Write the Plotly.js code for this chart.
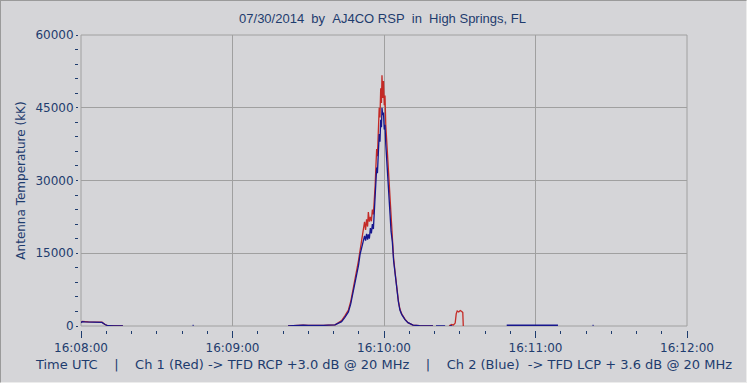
<!DOCTYPE html>
<html>
<head>
<meta charset="utf-8">
<script src="https://cdn.plot.ly/plotly-3.0.1.min.js"></script>
<style>
html,body{margin:0;padding:0;background:#d5d5d8;}
#chart{width:745px;height:381px;border-top:1px solid #9a9a9a;border-left:1px solid #9a9a9a;border-right:1px solid #ececec;border-bottom:1px solid #ececec;}
</style>
</head>
<body>
<div id="chart"></div>
<script>
// Seconds after 16:08:00 UTC on 2014-07-30, with antenna temperature (K); null = gap
const ch2BlueSec = [0,0.5,1.5,3,5,7,8.3,9.5,10.7,13,16.6,17,
  44.2,44.6,45,
  82,84,86,88,90,92,94,96,98,99.5,100.6,102,103.2,104.5,105.9,106.8,107.8,108.5,109.2,109.9,110.5,111.2,111.8,
  112.3,112.7,113.1,113.5,113.8,114.2,114.6,115.0,115.4,115.8,116.2,116.5,116.8,117.1,117.4,117.7,118.1,118.4,118.7,119.0,119.2,119.5,119.8,120.1,120.4,120.7,121.1,121.4,121.7,122.1,122.4,122.8,123.3,123.8,124.4,125,125.7,126.3,127,128.3,129.5,131.5,134,139.4,140,
  140.6,144.2,145,146,147,147.5,
  168.6,175,182,188.9,189.5,
  202.6,203];
const ch2BlueTemp = [700,900,850,800,820,800,750,300,50,30,30,null,
  100,100,null,
  0,100,120,150,100,80,150,130,200,300,250,600,900,1800,2900,4500,7000,8800,10600,12500,14700,16500,17400,
  18600,17600,19000,17800,18900,18000,20200,19100,21000,20000,23700,26000,29500,32700,31500,36000,39600,38000,42500,41000,45000,43500,44000,40500,41500,37500,34500,32000,29000,25000,23000,19500,17400,13500,10600,7500,5000,3300,2400,1300,700,200,50,20,null,
  20,20,null,30,30,null,
  150,170,160,150,null,
  100,100];

const ch1RedSec = [0,0.5,3,8.3,9.5,10.7,16.6,17,
  82,84,86,88,90,92,94,96,98,99.5,100.6,102,103.2,104.5,105.9,106.8,107.8,108.5,109.2,109.9,110.5,111.2,111.8,
  112.3,112.7,113.1,113.5,113.8,114.2,114.6,115.0,115.4,115.8,116.2,116.5,116.8,117.1,117.4,117.7,118.1,118.4,118.7,119.0,119.2,119.5,119.8,120.1,120.4,120.7,121.1,121.4,121.7,122.1,122.4,122.8,123.3,123.8,124.4,125,125.7,126.3,127,128.3,129.5,131.5,134,139.4,140,
  145.8,146.8,147.5,148.2,148.6,149.0,149.6,150.2,150.8,151.2,151.4];
const ch1RedTemp = [750,950,850,800,300,50,30,null,
  0,100,120,150,100,80,150,130,200,300,250,700,1100,2100,3300,5000,7600,9500,11500,13500,15500,17800,19500,
  21500,19800,22000,20500,23500,21500,22500,21600,24000,23000,26000,29000,33000,36500,35000,41000,45000,43000,49000,46000,51700,47000,50500,45500,47500,41500,38000,35000,31000,27000,24500,21000,18000,14000,11000,7800,5200,3500,2500,1400,700,200,50,20,null,
  50,300,200,600,2500,3100,2900,3200,3000,2800,0];

const titleText = '07/30/2014&nbsp;&nbsp;by&nbsp;&nbsp;AJ4CO RSP&nbsp;&nbsp;in&nbsp;&nbsp;High Springs, FL';
const yTitle = 'Antenna Temperature (kK)';
const xTitle = 'Time UTC&nbsp;&nbsp;&nbsp;&nbsp;|&nbsp;&nbsp;&nbsp;&nbsp;Ch 1 (Red) -&gt; TFD RCP +3.0 dB @ 20 MHz&nbsp;&nbsp;&nbsp;&nbsp;|&nbsp;&nbsp;&nbsp;&nbsp;Ch 2 (Blue)&nbsp;&nbsp;-&gt; TFD LCP + 3.6 dB @ 20 MHz';

const base = Date.UTC(2014, 6, 30, 16, 8, 0);
function toDate(s) {
  return new Date(base + Math.round(s * 1000)).toISOString().replace('T', ' ').replace('Z', '');
}

const textColor = '#1e3c6e';
const W = 745, H = 381;
const L = 77, R = 59, T = 34, B = 52;
const plotW = W - L - R, plotH = H - T - B;
const gapX = 3, gapY = 4;

const traces = [
  {x: ch1RedSec.map(toDate), y: ch1RedTemp, type: 'scatter', mode: 'lines',
   line: {color: '#c42a26', width: 1.3}, connectgaps: false, name: 'Ch 1'},
  {x: ch2BlueSec.map(toDate), y: ch2BlueTemp, type: 'scatter', mode: 'lines',
   line: {color: '#16168e', width: 1.3}, connectgaps: false, name: 'Ch 2'}
];

const layout = {
  width: W, height: H,
  paper_bgcolor: '#d5d5d8', plot_bgcolor: '#d5d5d8',
  margin: {l: L, r: R, t: T, b: B},
  showlegend: false,
  font: {family: 'DejaVu Sans, Verdana, sans-serif', size: 12, color: textColor},
  title: {text: titleText, x: 0.5, xref: 'paper', y: 0.955, yanchor: 'middle',
          font: {family: 'Liberation Sans Narrow, Arial Narrow, Liberation Sans, sans-serif', size: 13, color: textColor}},
  xaxis: {
    type: 'date',
    range: [toDate(0), toDate(240)],
    domain: [gapX / plotW, 1],
    anchor: 'free', position: 0,
    tickformat: '%H:%M:%S',
    dtick: 60000, tick0: toDate(0),
    ticks: 'outside', ticklen: 7, tickcolor: '#1e3c6e', tickwidth: 1,
    minor: {dtick: 10000, ticks: 'outside', ticklen: 3, tickcolor: '#1e3c6e', showgrid: false},
    showgrid: true, gridcolor: '#a0a0a0', gridwidth: 1,
    showline: false, zeroline: false,
    tickfont: {size: 12, color: textColor},
    title: {text: xTitle, standoff: 5, font: {size: 13, color: textColor}},
    fixedrange: true
  },
  yaxis: {
    range: [0, 60000],
    domain: [gapY / plotH, 1],
    anchor: 'free', position: 0,
    dtick: 15000, tick0: 0,
    tickformat: 'd',
    ticks: 'outside', ticklen: 2, tickcolor: '#1e3c6e', tickwidth: 1,
    minor: {dtick: 3000, ticks: 'outside', ticklen: 3, tickcolor: '#1e3c6e', showgrid: false},
    showgrid: true, gridcolor: '#a0a0a0', gridwidth: 1,
    showline: false, zeroline: false,
    tickfont: {size: 12, color: textColor},
    title: {text: yTitle, standoff: 6, font: {size: 12, color: textColor}},
    fixedrange: true
  },
  shapes: [
    {type: 'rect', xref: 'x domain', yref: 'y domain', x0: 0, x1: 1, y0: 0, y1: 1,
     line: {color: '#a0a0a0', width: 1}, fillcolor: 'rgba(0,0,0,0)', layer: 'below'}
  ]
};

Plotly.newPlot('chart', traces, layout, {displayModeBar: false, staticPlot: true});
</script>
</body>
</html>
